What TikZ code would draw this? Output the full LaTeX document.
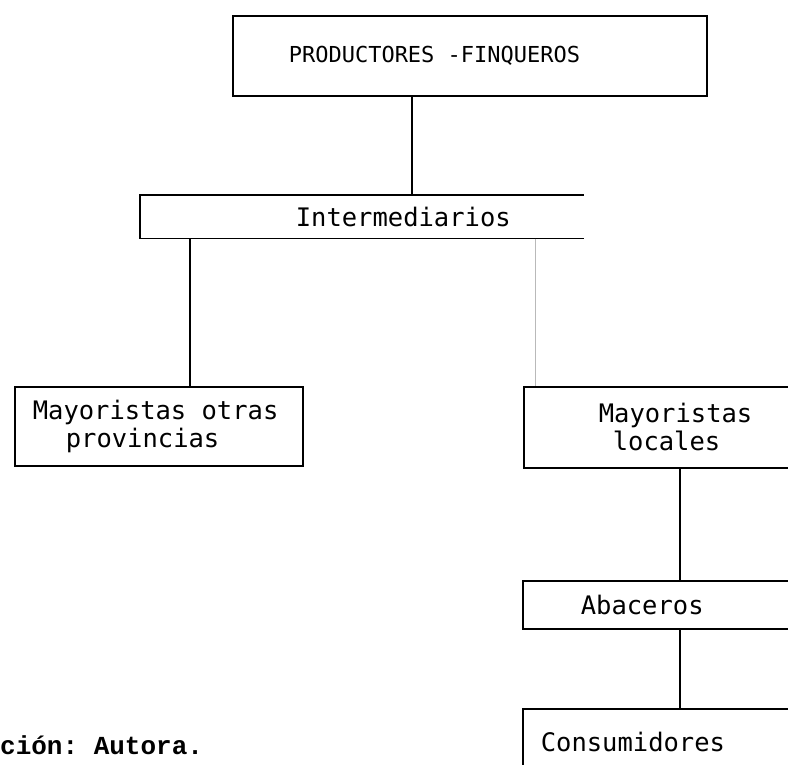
\documentclass[tikz,border=0pt]{standalone}
\usepackage{fontspec}
\usetikzlibrary{positioning}
\newfontfamily\maq{DejaVu Sans Mono}
\newfontfamily\maqb{Liberation Mono}

\tikzset{
  caja/.style 2 args={draw, line width=1.6pt, anchor=north west, align=left,
    inner xsep=4pt, inner ysep=0pt, text width=#1, minimum height=#2},
  linea/.style={line width=1.6pt},
  tenue/.style={line width=0.8pt, gray!55},
}

\begin{document}
\begin{tikzpicture}[x=1pt,y=-1pt]
  \useasboundingbox (0,0) rectangle (788,765);
  \clip (0,0) rectangle (788,765);

  \def\fs{\fontsize{25.5}{28}\selectfont}
  \def\esp{\hspace{0.602em}}

  %cajas
  \node[caja={466pt}{80pt}, font=\maq\fontsize{22}{26}\selectfont] (prod) at (232,15)
       {\hspace*{52pt}PRODUCTORES\esp-FINQUEROS};
  \node[caja={434pt}{42pt}, draw=none, font=\maq\fs] (inter) at (140,195)
       {\hspace*{151pt}Intermediarios};
  \draw[linea] (inter.north east) -- (inter.north west) -- (inter.south west) -- (inter.south east);

  \node[caja={280pt}{79pt}, font=\maq\fs] (myprov) at (14,386)
       {\hspace*{14pt}Mayoristas\esp otras\\\hspace*{47pt}provincias};
  \node[caja={282pt}{81pt}, font=\maq\fs] (myloc) at (523,386)
       {\hspace*{71pt}Mayoristas\\\hspace*{85pt}locales};
  \node[caja={282pt}{48pt}, font=\maq\fs] (abac) at (522,580)
       {\hspace*{54pt}Abaceros};
  \node[caja={282pt}{67pt}, font=\maq\fs] (cons) at (522,708)
       {\hspace*{14pt}Consumidores};

  %fuente
  \node[anchor=west, inner sep=0pt, font=\maqb\bfseries\fontsize{26}{30}\selectfont] (fuente) at (0,745)
       {ción:\hspace{0.6em}Autora.};

  %lineas
  \foreach \a/\b/\x in {prod/inter/412, inter/myprov/190, myloc/abac/680, abac/cons/680}{
    \path (\x,0) coordinate (k);
    \draw[linea] (\a.south -| k) -- (\b.north -| k);
  }
  \path (535,0) coordinate (k2);
  \draw[tenue] (inter.south -| k2) -- (myloc.north -| k2);

\end{tikzpicture}
\end{document}
